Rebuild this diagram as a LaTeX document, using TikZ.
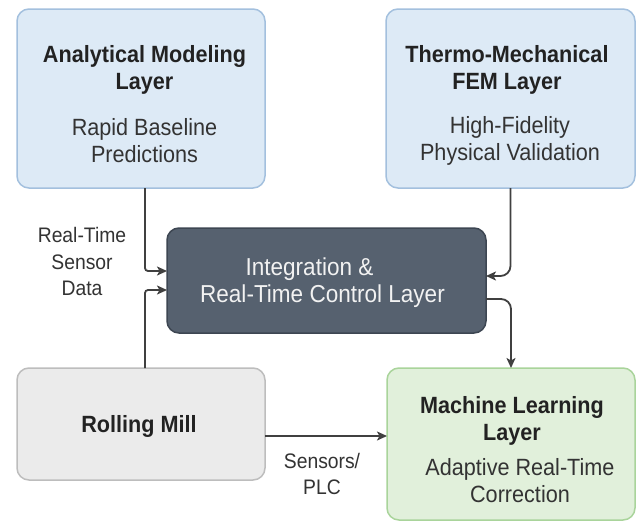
\documentclass[tikz,border=0pt]{standalone}
\usepackage{fontspec}
\setmainfont[FakeStretch=0.92]{Liberation Sans}
\usetikzlibrary{arrows.meta,calc}
\definecolor{bluefill}{HTML}{DDEAF6}
\definecolor{blueline}{HTML}{A3C0DE}
\definecolor{darkfill}{HTML}{56616F}
\definecolor{darkline}{HTML}{3D4652}
\definecolor{greyfill}{HTML}{EBEBEB}
\definecolor{greyline}{HTML}{BDBDBD}
\definecolor{greenfill}{HTML}{E1F0DB}
\definecolor{greenline}{HTML}{A9D49B}
\definecolor{txt}{HTML}{222222}
\definecolor{subtxt}{HTML}{333333}
\definecolor{arrowc}{HTML}{404040}
\begin{document}
\begin{tikzpicture}[x=1pt,y=-1pt,
  box/.style={draw, rounded corners=12pt, line width=1.5pt, inner sep=0pt, outer sep=0pt},
  ttl/.style={font=\fontsize{23.5}{27}\selectfont\bfseries, text=txt, align=center, inner sep=0pt},
  sub/.style={font=\fontsize{23.5}{27}\selectfont, text=subtxt, align=center, inner sep=0pt},
  lbl/.style={font=\fontsize{21}{26.5}\selectfont, text=subtxt, align=center, inner sep=0pt},
  conn/.style={draw=arrowc, line width=1.8pt, -{Stealth[length=10pt,width=9pt,inset=2.5pt]}}]
\useasboundingbox (0,0) rectangle (641,523);
\fill[white] (0,0) rectangle (641,523);
% boxes
\node[box, fill=bluefill, draw=blueline, minimum width=248pt, minimum height=179pt] (A) at (141,98.5) {};
\node[box, fill=bluefill, draw=blueline, minimum width=249pt, minimum height=179pt] (T) at (510.5,98.5) {};
\node[box, fill=darkfill, draw=darkline, minimum width=319pt, minimum height=105pt] (I) at (326.5,280.5) {};
\node[box, fill=greyfill, draw=greyline, minimum width=248pt, minimum height=112pt] (R) at (141,424) {};
\node[box, fill=greenfill, draw=greenline, minimum width=248pt, minimum height=152pt] (ML) at (511,444) {};
% texts
\node[ttl] (At) at (144.5,69.6) {Analytical Modeling\\Layer};
\node[sub] (As) at (144.5,140.6) {Rapid Baseline\\Predictions};
\node[ttl] (Tt) at (507,69.6) {Thermo-Mechanical\\FEM Layer};
\node[sub] (Ts) at (510,140.6) {High-Fidelity\\Physical Validation};
\node[font=\fontsize{24.5}{27}\selectfont, text=white!95!black, align=center, inner sep=0pt] (It) at (322.5,282.5) {Integration \&\kern26pt\\Real-Time Control Layer};
\node[ttl] (Rt) at (139,426) {Rolling Mill};
\node[ttl] (MLt) at (512,420.6) {Machine Learning\\Layer};
\node[sub] (MLs) at (520,480.6) {Adaptive Real-Time\\Correction};
\node[lbl] (L1) at (82,261.5) {Real-Time\\Sensor\\Data};
\node[lbl] (L2) at (322,474) {Sensors/\\PLC};
% connectors
\coordinate (xl) at (145,0);
\draw[conn, rounded corners=3pt] (A.south -| xl) |- ($(I.west)+(0,-9.5)$);
\draw[conn, rounded corners=3pt] (R.north -| xl) |- ($(I.west)+(0,9.5)$);
\draw[conn, rounded corners=10pt] (T.south) |- ($(I.east)+(0,-4.5)$);
\draw[conn, rounded corners=10pt] ($(I.east)+(0,18.5)$) -| (ML.north);
\draw[conn] ($(R.east)+(0,12)$) -- ($(ML.west)+(0,-8)$);
\end{tikzpicture}
\end{document}
